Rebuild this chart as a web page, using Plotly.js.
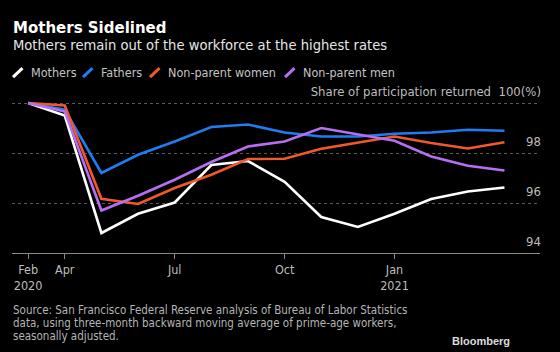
<!DOCTYPE html>
<html>
<head>
<meta charset="utf-8">
<script src="https://cdn.plot.ly/plotly-3.0.1.min.js"></script>
<style>
html,body{margin:0;padding:0;background:#000;}
#chart{width:560px;height:352px;}
</style>
</head>
<body>
<div id="chart"></div>
<script>
// ---- data ----
const months = ["2020-02","2020-04","2020-05","2020-06","2020-07","2020-08","2020-09","2020-10","2020-11","2020-12","2021-01","2021-02","2021-03","2021-04"];
const mothers = [100, 99.5, 94.8, 95.57, 96.02, 97.52, 97.68, 96.85, 95.44, 95.04, 95.57, 96.16, 96.46, 96.62];
const fathers = [100, 99.73, 97.2, 97.93, 98.46, 99.04, 99.14, 98.82, 98.66, 98.66, 98.77, 98.82, 98.93, 98.89];
const nonParentWomen = [100, 99.9, 96.17, 95.96, 96.6, 97.13, 97.76, 97.77, 98.17, 98.43, 98.66, 98.4, 98.18, 98.43];
const nonParentMen = [100, 99.66, 95.7, 96.29, 96.93, 97.64, 98.26, 98.46, 99.0, 98.76, 98.49, 97.86, 97.49, 97.3];
const seriesNames = ["Mothers", "Fathers", "Non-parent women", "Non-parent men"];
const seriesColors = ["#ffffff", "#1f7cf2", "#f2582c", "#b66ff0"];
const xTickVals = ["2020-02","2020-04","2020-07","2020-10","2021-01"];
const xTickText = ["Feb<br>2020","Apr","Jul","Oct","Jan<br>2021"];
const yTickVals = [94, 96, 98, 100];
const yTickText = ["94", "96", "98", "Share of participation returned\u00a0\u00a0100(%)"];
const titleText = "Mothers Sidelined";
const subtitleText = "Mothers remain out of the workforce at the highest rates";
const sourceLines = [
  "Source: San Francisco Federal Reserve analysis of Bureau of Labor Statistics",
  "data, using three-month backward moving average of prime-age workers,",
  "seasonally adjusted."
];
const brandText = "Bloomberg";

const FONT = "'DejaVu Sans Condensed', 'DejaVu Sans', sans-serif";
const allSeries = [mothers, fathers, nonParentWomen, nonParentMen];

// ---- layout helpers (pixel -> paper) ----
const PL = 12, PW = 528, PB = 253, PH = 160;
const px = v => (v - PL) / PW;
const py = v => (PB - v) / PH;

const traces = allSeries.map((vals, i) => ({
  type: "scatter",
  mode: "lines",
  x: months,
  y: vals,
  name: seriesNames[i],
  line: {color: seriesColors[i], width: 2.6},
  showlegend: false,
  hoverinfo: "skip"
}));

// custom legend: slanted key + label
const legendTextX = [28.5, 98.5, 165.5, 300.5];
const legendY = 72.7;
const shapes = [];
const annotations = [];
seriesNames.forEach((n, i) => {
  const tx = legendTextX[i];
  shapes.push({
    type: "line", xref: "paper", yref: "paper",
    x0: px(tx - 15.5), y0: py(legendY + 4.5),
    x1: px(tx - 6), y1: py(legendY - 4.5),
    line: {color: seriesColors[i], width: 3}
  });
  annotations.push({
    text: n, showarrow: false,
    xref: "paper", yref: "paper", x: px(tx), y: py(legendY),
    xanchor: "left", yanchor: "middle",
    font: {family: FONT, size: 12.5, color: "#c4c4c4"}
  });
});

annotations.push({
  text: "<b>" + titleText + "</b>", showarrow: false,
  xref: "paper", yref: "paper", x: px(11), y: py(27.5),
  xanchor: "left", yanchor: "middle",
  font: {family: "'DejaVu Sans', sans-serif", size: 15, color: "#ffffff"}
});

annotations.push({
  text: subtitleText, showarrow: false,
  xref: "paper", yref: "paper", x: px(11), y: py(45),
  xanchor: "left", yanchor: "middle",
  font: {family: FONT, size: 14.6, color: "#e6e6e6"}
});

sourceLines.forEach((t, i) => {
  annotations.push({
    text: t, showarrow: false, align: "left",
    xref: "paper", yref: "paper", x: px(11), y: py(310 + i * 13),
    xanchor: "left", yanchor: "middle",
    font: {family: FONT, size: 11.5, color: "#b4b4b4"}
  });
});

annotations.push({
  text: "<b>" + brandText + "</b>", showarrow: false,
  xref: "paper", yref: "paper", x: px(512), y: py(341),
  xanchor: "right", yanchor: "middle",
  font: {family: "'Liberation Sans', Arial, sans-serif", size: 11, color: "#dcdcdc"}
});

const layout = {
  width: 560, height: 352,
  paper_bgcolor: "#000", plot_bgcolor: "#000",
  margin: {l: 12, r: 20, t: 93, b: 99, pad: 0},
  font: {family: FONT, color: "#bdbdbd", size: 13},
  xaxis: {
    type: "category",
    range: [-0.44, 13.97],
    tickvals: xTickVals, ticktext: xTickText,
    showgrid: false, zeroline: false,
    showline: true, linecolor: "#8a8a8a", linewidth: 1,
    ticks: "outside", ticklen: 5, tickcolor: "#8a8a8a", tickwidth: 1,
    tickfont: {family: FONT, size: 12.5, color: "#bdbdbd"},
    fixedrange: true
  },
  yaxis: {
    range: [94, 100.4],
    side: "right",
    tickvals: yTickVals, ticktext: yTickText,
    ticklabelposition: "inside",
    ticklabeloverflow: "allow",
    ticklabelshift: -12,
    ticklabelstandoff: -4,
    ticks: "",
    showgrid: true, gridcolor: "#5a5a5a", griddash: "dot", gridwidth: 1,
    zeroline: false, showline: false,
    tickfont: {family: FONT, size: 13, color: "#bdbdbd"},
    fixedrange: true
  },
  shapes: shapes,
  annotations: annotations
};

Plotly.newPlot("chart", traces, layout, {displayModeBar: false, staticPlot: true});
</script>
</body>
</html>
